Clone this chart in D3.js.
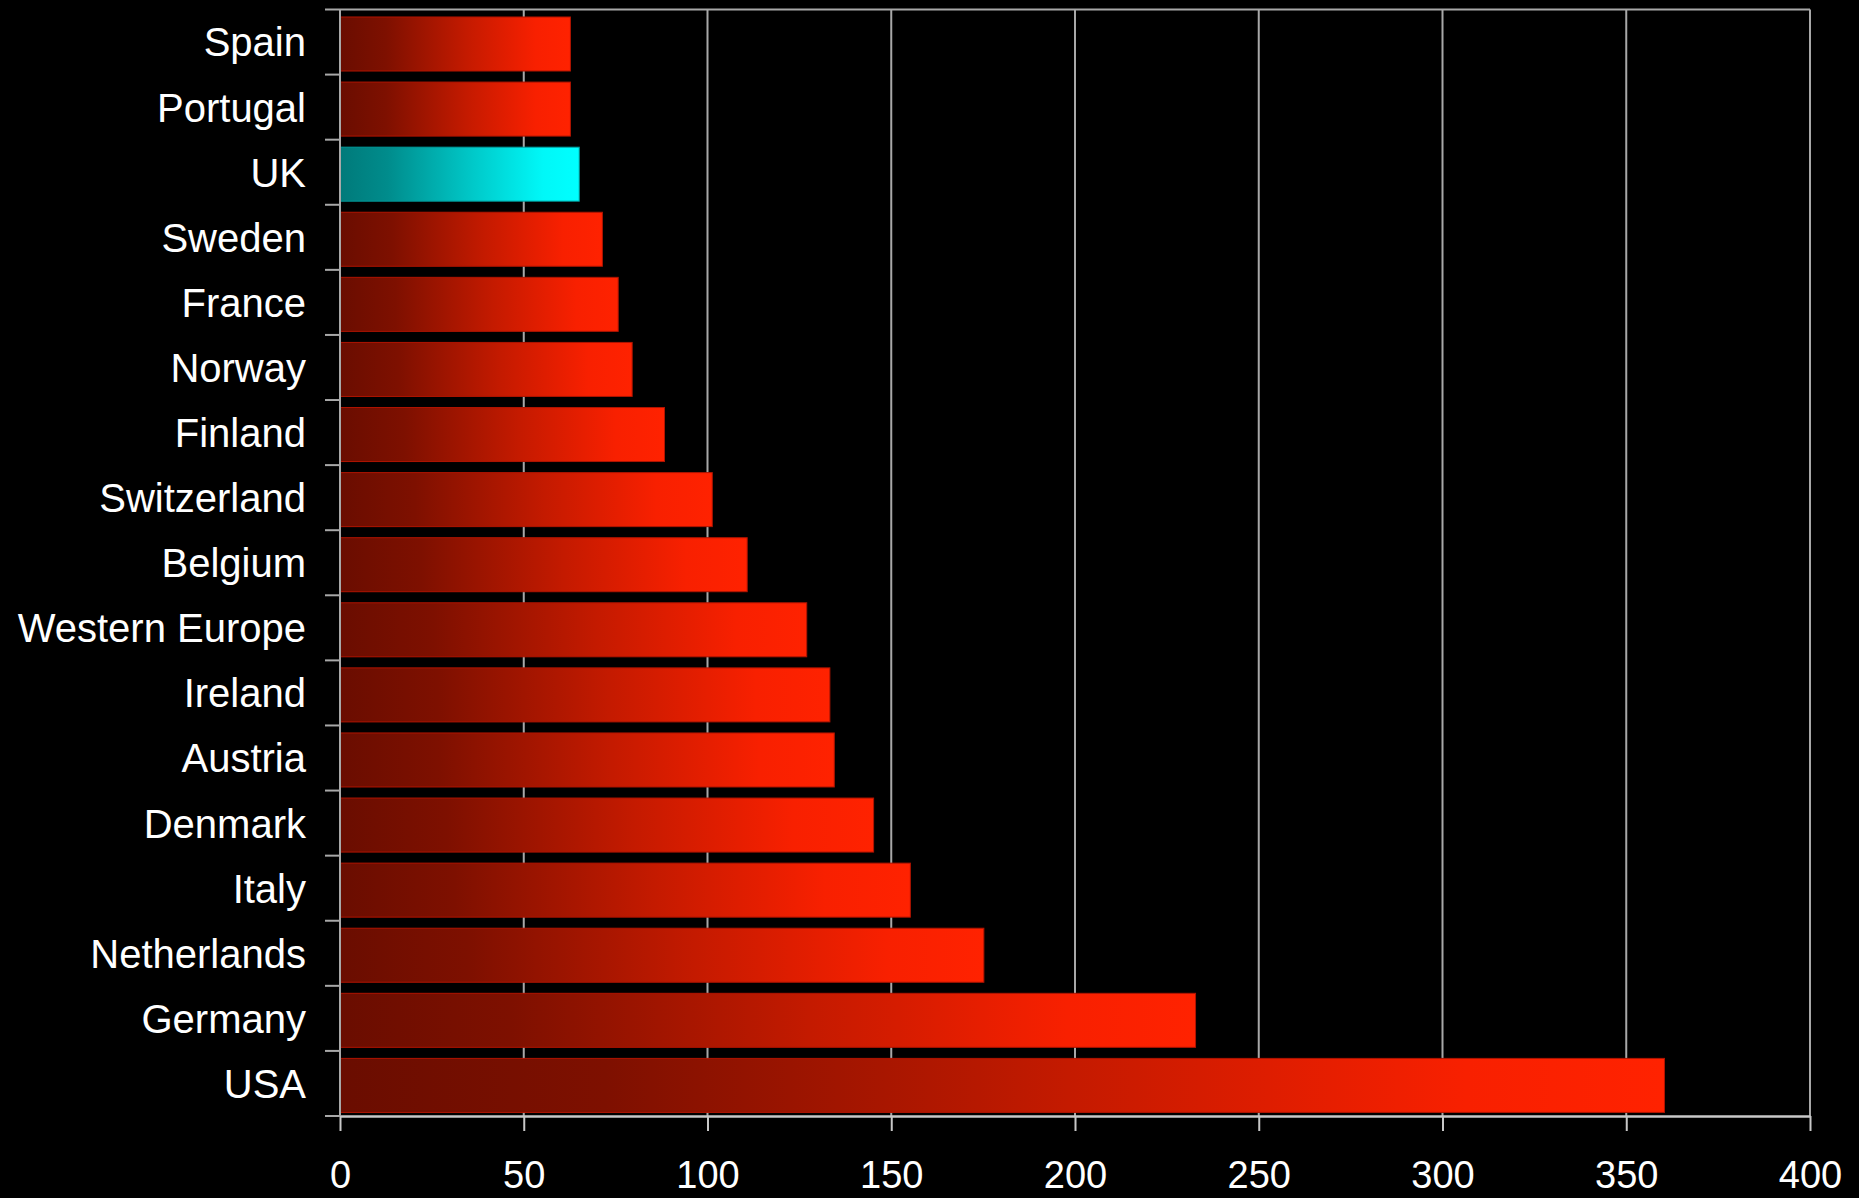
<!DOCTYPE html>
<html>
<head>
<meta charset="utf-8">
<script src="https://cdn.jsdelivr.net/npm/d3@7/dist/d3.min.js"></script>
<style>
  html, body { margin: 0; padding: 0; background: #000; }
  svg { display: block; }
  text { font-family: "Liberation Sans", Arial, sans-serif; fill: #fff; }
</style>
</head>
<body>
<svg id="chart" width="1859" height="1198"></svg>
<script>
// Countries, top to bottom
const categories = [
  "Spain", "Portugal", "UK", "Sweden", "France", "Norway", "Finland",
  "Switzerland", "Belgium", "Western Europe", "Ireland", "Austria",
  "Denmark", "Italy", "Netherlands", "Germany", "USA"
];
// Value per country
const values = [
  62.7, 62.7, 65.1, 71.4, 75.7, 79.5, 88.3,
  101.3, 110.8, 127.0, 133.3, 134.5,
  145.2, 155.2, 175.2, 232.8, 360.4
];
// Bar drawn in the alternate colour
const highlighted = ["UK"];
// Value axis ticks
const xTicks = [0, 50, 100, 150, 200, 250, 300, 350, 400];

const width = 1859, height = 1198;
const margin = { top: 9.5, right: 49, bottom: 82, left: 340 };
const innerW = width - margin.left - margin.right;
const innerH = height - margin.top - margin.bottom;

const svg = d3.select("#chart");
svg.append("rect").attr("width", width).attr("height", height).attr("fill", "#000");

// Horizontal gradients for the bars
const defs = svg.append("defs");
function gradient(id, stops) {
  const g = defs.append("linearGradient")
    .attr("id", id).attr("x1", "0%").attr("x2", "100%").attr("y1", "0%").attr("y2", "0%");
  stops.forEach(([o, c]) => g.append("stop").attr("offset", o).attr("stop-color", c));
}
gradient("redGrad", [[0, "#6a0d00"], [0.2, "#7e1000"], [0.55, "#c41a00"], [0.85, "#f82000"], [1, "#ff2200"]]);
gradient("cyanGrad", [[0, "#007a7a"], [0.2, "#008c8c"], [0.55, "#00c8c8"], [0.85, "#00f8f8"], [1, "#00ffff"]]);

const g = svg.append("g").attr("transform", `translate(${margin.left},${margin.top})`);

const x = d3.scaleLinear().domain([0, 400]).range([0, innerW]);
const y = d3.scaleBand().domain(categories).range([0, innerH]).paddingInner(0).paddingOuter(0);

const gridColor = "#a8a8a8";

// Vertical grid lines (including the right border)
g.append("g").selectAll("line")
  .data(xTicks.filter(t => t > 0))
  .join("line")
  .attr("x1", d => x(d)).attr("x2", d => x(d))
  .attr("y1", 0).attr("y2", innerH)
  .attr("stroke", gridColor).attr("stroke-width", 2);

// Top border
g.append("line")
  .attr("x1", 0).attr("x2", innerW).attr("y1", 0).attr("y2", 0)
  .attr("stroke", gridColor).attr("stroke-width", 2);

// Bars
const bw = y.bandwidth();
g.append("g").selectAll("rect")
  .data(categories.map((c, i) => ({ c, v: values[i] })))
  .join("rect")
  .attr("x", x(0))
  .attr("y", d => y(d.c) + bw * 0.115)
  .attr("height", bw * 0.83)
  .attr("width", d => x(d.v) - x(0))
  .attr("fill", d => highlighted.includes(d.c) ? "url(#cyanGrad)" : "url(#redGrad)")
  .attr("stroke", d => highlighted.includes(d.c) ? "#009a9a" : "#b01400")
  .attr("stroke-width", 1);

// Bottom value axis
const xAxis = g.append("g")
  .attr("transform", `translate(0,${innerH})`)
  .call(d3.axisBottom(x).tickValues(xTicks).tickSize(15).tickPadding(30).tickSizeOuter(0));
xAxis.select(".domain").attr("stroke", "#c8c8c8").attr("stroke-width", 2.5);
xAxis.selectAll(".tick line").attr("stroke", "#c8c8c8").attr("stroke-width", 2);
xAxis.selectAll(".tick text")
  .attr("fill", "#fff").attr("font-size", 38)
  .attr("font-family", "'Liberation Sans', Arial, sans-serif");

// Left category axis: labels centred in bands, ticks on band boundaries
const yAxis = g.append("g")
  .call(d3.axisLeft(y).tickSize(0).tickPadding(34));
yAxis.select(".domain").remove();
yAxis.selectAll(".tick text")
  .attr("fill", "#fff").attr("font-size", 40).attr("dy", "0.36em")
  .attr("font-family", "'Liberation Sans', Arial, sans-serif");

const bounds = categories.map(c => y(c)).concat([innerH]);
g.append("g").selectAll("line")
  .data(bounds)
  .join("line")
  .attr("x1", -15).attr("x2", 0)
  .attr("y1", d => d).attr("y2", d => d)
  .attr("stroke", gridColor).attr("stroke-width", 2);

g.append("line")
  .attr("x1", 0).attr("x2", 0).attr("y1", 0).attr("y2", innerH)
  .attr("stroke", gridColor).attr("stroke-width", 2);
</script>
</body>
</html>
